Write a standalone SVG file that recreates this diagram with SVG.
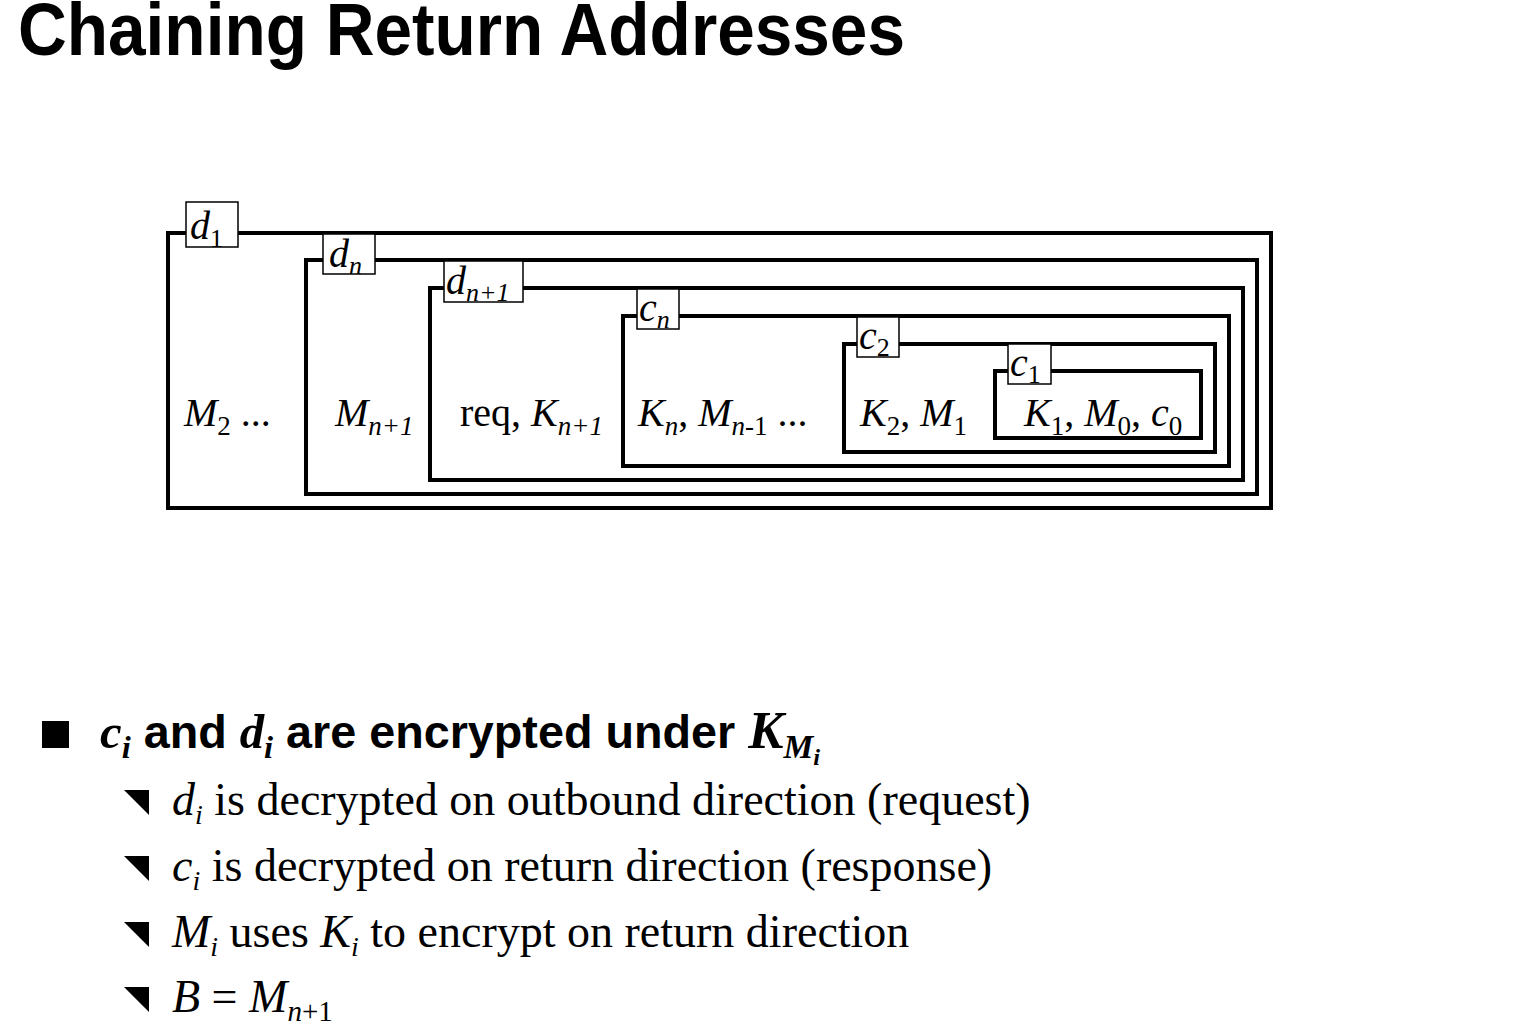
<svg xmlns="http://www.w3.org/2000/svg" width="1534" height="1034" viewBox="0 0 1534 1034">
  <style>
    .frame { fill: none; stroke: #000; stroke-width: 4; }
    .tag { fill: #fff; stroke: #000; stroke-width: 1.5; }
    .serif { font-family: "Liberation Serif", "Times New Roman", serif; fill: #000; }
    .it { font-style: italic; }
    .rm { font-style: normal; }
    .lbl { font-size: 40px; }
    .tagtxt { font-size: 40px; }
    .sans { font-family: "Liberation Sans", Arial, sans-serif; font-weight: bold; fill: #000; }
    .bi { font-family: "Liberation Serif", "Times New Roman", serif; font-style: italic; font-weight: bold; }
    .body { font-size: 46px; }
  </style>

  <rect width="1534" height="1034" fill="#fff"/>

  <!-- title -->
  <text class="sans" x="18" y="55" font-size="75" textLength="887" lengthAdjust="spacingAndGlyphs">Chaining Return Addresses</text>

  <!-- nested onion layers: outer frame first, each tag drawn over its frame's top edge -->
  <g id="layer-d1">
    <rect class="frame" x="168" y="233" width="1103" height="275"/>
    <rect class="tag" x="186" y="202" width="52" height="45"/>
    <text class="serif it tagtxt" x="190" y="239">d<tspan class="rm" font-size="26" dy="8">1</tspan></text>
    <text class="serif lbl" x="184" y="426"><tspan class="it">M</tspan><tspan font-size="27" dy="9">2</tspan><tspan dy="-9"> ...</tspan></text>
  </g>

  <g id="layer-dn">
    <rect class="frame" x="306" y="260" width="951" height="234"/>
    <rect class="tag" x="323" y="234" width="52" height="40"/>
    <text class="serif it tagtxt" x="329" y="267">d<tspan font-size="26" dy="7">n</tspan></text>
    <text class="serif it lbl" x="335" y="426">M<tspan font-size="27" dy="9">n+1</tspan></text>
  </g>

  <g id="layer-dn1">
    <rect class="frame" x="430" y="288" width="813" height="192"/>
    <rect class="tag" x="444" y="261" width="79" height="41"/>
    <text class="serif it tagtxt" x="446" y="294">d<tspan font-size="26" dy="7">n+1</tspan></text>
    <text class="serif lbl" x="460" y="426">req, <tspan class="it">K</tspan><tspan class="it" font-size="27" dy="9">n+1</tspan></text>
  </g>

  <g id="layer-cn">
    <rect class="frame" x="623" y="316" width="606" height="150"/>
    <rect class="tag" x="637" y="289" width="42" height="40"/>
    <text class="serif it tagtxt" x="639" y="321">c<tspan font-size="26" dy="7">n</tspan></text>
    <text class="serif lbl" x="638" y="426"><tspan class="it">K</tspan><tspan class="it" font-size="27" dy="9">n</tspan><tspan dy="-9">, </tspan><tspan class="it">M</tspan><tspan class="it" font-size="27" dy="9">n</tspan><tspan font-size="27">-1</tspan><tspan dy="-9"> ...</tspan></text>
  </g>

  <g id="layer-c2">
    <rect class="frame" x="844" y="344" width="371" height="108"/>
    <rect class="tag" x="857" y="317" width="42" height="40"/>
    <text class="serif it tagtxt" x="859" y="349">c<tspan class="rm" font-size="26" dy="7">2</tspan></text>
    <text class="serif lbl" x="860" y="426"><tspan class="it">K</tspan><tspan font-size="27" dy="9">2</tspan><tspan dy="-9">, </tspan><tspan class="it">M</tspan><tspan font-size="27" dy="9">1</tspan></text>
  </g>

  <g id="layer-c1">
    <rect class="frame" x="995" y="371" width="206" height="67"/>
    <rect class="tag" x="1008" y="344" width="43" height="40"/>
    <text class="serif it tagtxt" x="1010" y="376">c<tspan class="rm" font-size="26" dy="7">1</tspan></text>
    <text class="serif lbl" x="1024" y="426"><tspan class="it">K</tspan><tspan font-size="27" dy="9">1</tspan><tspan dy="-9">, </tspan><tspan class="it">M</tspan><tspan font-size="27" dy="9">0</tspan><tspan dy="-9">, </tspan><tspan class="it">c</tspan><tspan font-size="27" dy="9">0</tspan></text>
  </g>

  <!-- connectors: none, the layers nest directly -->
  <g id="connectors"/>

  <!-- bullet list -->
  <g id="bullets">
    <rect x="42" y="721" width="27" height="27" fill="#000"/>
    <text class="sans" x="100" y="748" font-size="46" textLength="720" lengthAdjust="spacingAndGlyphs"><tspan class="bi" font-size="48">c</tspan><tspan class="bi" font-size="32" dy="10">i</tspan><tspan dy="-10"> and </tspan><tspan class="bi" font-size="48">d</tspan><tspan class="bi" font-size="32" dy="10">i</tspan><tspan dy="-10"> are encrypted under </tspan><tspan class="bi" font-size="52">K</tspan><tspan class="bi" font-size="33" dy="10">M</tspan><tspan class="bi" font-size="24" dy="7">i</tspan></text>

    <g id="sub-bullets" fill="#000">
      <polygon points="124,790 149,790 149,815"/>
      <polygon points="124,856 149,856 149,881"/>
      <polygon points="124,922 149,922 149,947"/>
      <polygon points="124,987 149,987 149,1012"/>
    </g>
    <text class="serif body" x="172" y="815"><tspan class="it">d</tspan><tspan class="it" font-size="28" dy="9">i</tspan><tspan dy="-9"> is decrypted on outbound direction (request)</tspan></text>
    <text class="serif body" x="172" y="881"><tspan class="it">c</tspan><tspan class="it" font-size="28" dy="9">i</tspan><tspan dy="-9"> is decrypted on return direction (response)</tspan></text>
    <text class="serif body" x="172" y="947"><tspan class="it">M</tspan><tspan class="it" font-size="28" dy="9">i</tspan><tspan dy="-9"> uses </tspan><tspan class="it">K</tspan><tspan class="it" font-size="28" dy="9">i</tspan><tspan dy="-9"> to encrypt on return direction</tspan></text>
    <text class="serif body" x="172" y="1012"><tspan class="it">B</tspan> = <tspan class="it">M</tspan><tspan font-size="29" dy="9"><tspan class="it">n</tspan>+1</tspan></text>
  </g>
</svg>
